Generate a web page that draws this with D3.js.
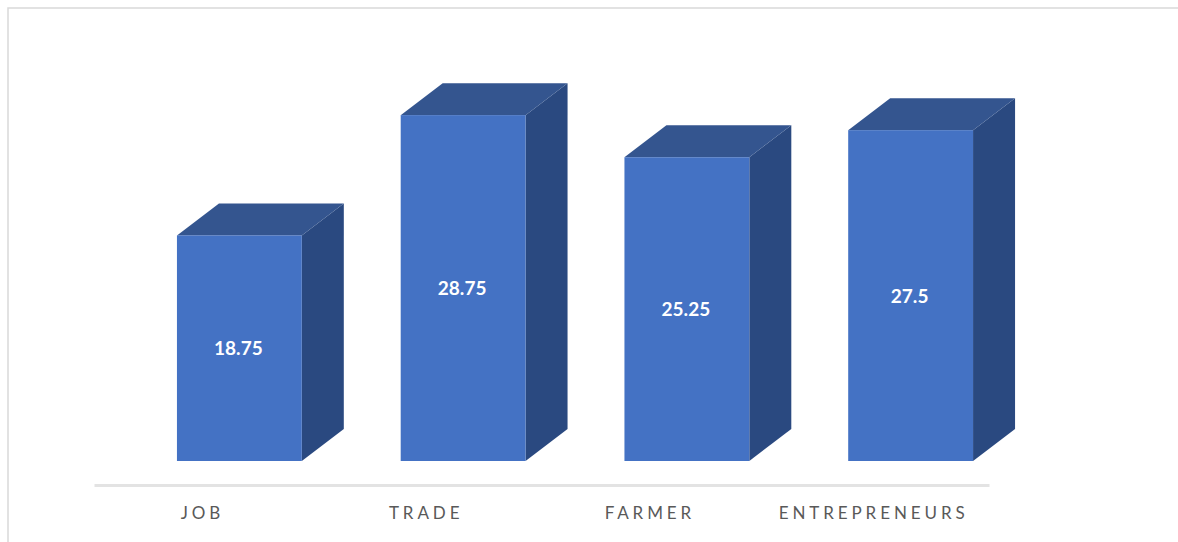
<!DOCTYPE html>
<html>
<head>
<meta charset="utf-8">
<script src="https://cdn.jsdelivr.net/npm/d3@7"></script>
<style>
  html, body { margin: 0; padding: 0; background: #fff; }
  svg { display: block; }
  text { font-family: Lato, "Open Sans", sans-serif; }
</style>
</head>
<body>
<svg id="chart" width="1178" height="542"></svg>
<script>
const categories = ["JOB", "TRADE", "FARMER", "ENTREPRENEURS"];
const values = [18.75, 28.75, 25.25, 27.5];
const valueLabels = ["18.75", "28.75", "25.25", "27.5"];

const width = 1178, height = 542;
const baseY = 461, axisY = 485;
const depthX = 42, depthY = 32;   // oblique offset of the extruded side
const barShift = 33.5;            // columns sit right of their band, as the depth is drawn back-right

const colors = { front: "#4472c4", top: "#34558f", side: "#2a4980" };

const svg = d3.select("#chart");

// Panel frame: only the top and left edges are visible
svg.append("path")
  .attr("d", d3.line()([[8, height], [8, 8], [width, 8]]))
  .attr("fill", "none")
  .attr("stroke", "#d9d9d9")
  .attr("stroke-width", 1.5);

const x = d3.scaleBand().domain(categories).range([94, 989]).paddingInner(0.442).paddingOuter(0.221);
const y = d3.scaleLinear().domain([0, 30]).range([baseY, baseY - 30 * 12.03]);

const bars = svg.append("g").selectAll("g")
  .data(categories.map((c, i) => ({ c, v: values[i], label: valueLabels[i] })))
  .join("g");

const line = d3.line();
const left = d => x(d.c) + barShift;
const right = d => left(d) + x.bandwidth();

// Right side face
bars.append("path")
  .attr("fill", colors.side)
  .attr("d", d => line([
    [right(d), y(d.v)],
    [right(d) + depthX, y(d.v) - depthY],
    [right(d) + depthX, baseY - depthY],
    [right(d), baseY]
  ]) + "Z");

// Top face
bars.append("path")
  .attr("fill", colors.top)
  .attr("d", d => line([
    [left(d), y(d.v)],
    [left(d) + depthX, y(d.v) - depthY],
    [right(d) + depthX, y(d.v) - depthY],
    [right(d), y(d.v)]
  ]) + "Z");

// Front face
bars.append("rect")
  .attr("fill", colors.front)
  .attr("x", left)
  .attr("y", d => y(d.v))
  .attr("width", x.bandwidth())
  .attr("height", d => baseY - y(d.v));

// Value labels centred on the front face
bars.append("text")
  .attr("x", d => left(d) + x.bandwidth() / 2 - 1)
  .attr("y", d => (y(d.v) + baseY) / 2 + 7)
  .attr("text-anchor", "middle")
  .attr("fill", "#ffffff")
  .attr("font-size", 19)
  .attr("font-weight", 700)
  .text(d => d.label);

// Category axis: baseline and spaced capitals, no ticks
const axis = svg.append("g")
  .attr("transform", `translate(0,${axisY})`)
  .call(d3.axisBottom(x).tickSize(0).tickPadding(22));
axis.select(".domain")
  .attr("stroke", "#e3e3e3")
  .attr("stroke-width", 3);
axis.selectAll("text")
  .attr("fill", "#595959")
  .attr("font-size", 17)
  .attr("letter-spacing", 3.9)
  .attr("font-family", "Lato, 'Open Sans', sans-serif")
  .attr("dx", -3.5);
</script>
</body>
</html>
